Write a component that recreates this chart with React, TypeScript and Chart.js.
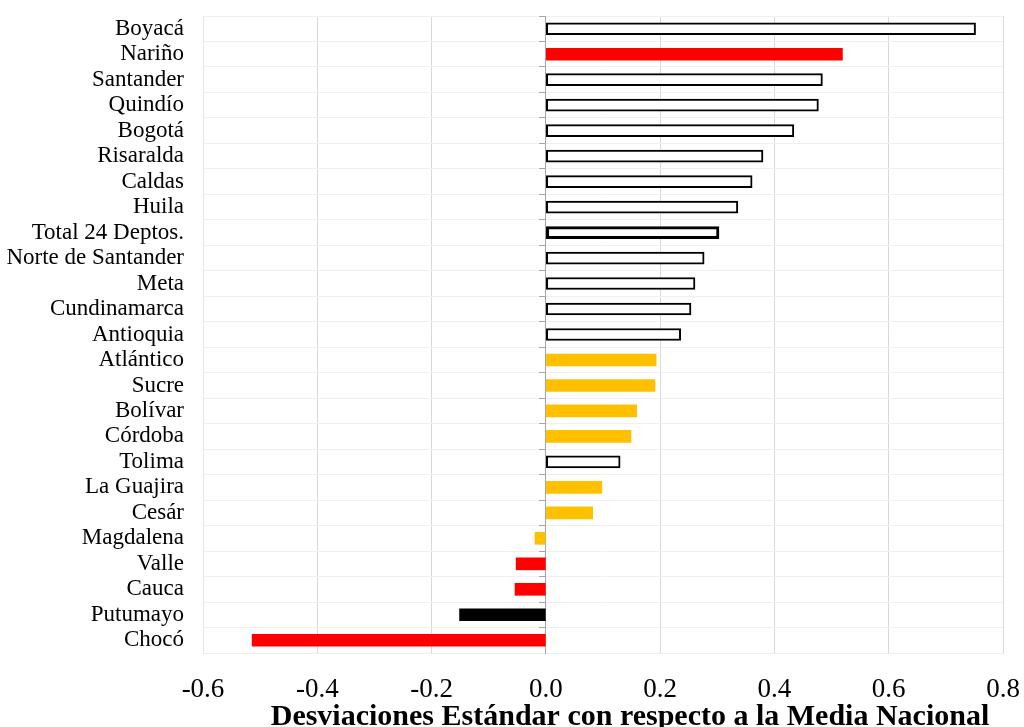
import React, { useEffect, useRef } from "react";
import { Chart, registerables } from "chart.js";

Chart.register(...registerables);

const categories: string[] = [
  "Boyacá", "Nariño", "Santander", "Quindío", "Bogotá", "Risaralda", "Caldas", "Huila",
  "Total 24 Deptos.", "Norte de Santander", "Meta", "Cundinamarca", "Antioquia", "Atlántico",
  "Sucre", "Bolívar", "Córdoba", "Tolima", "La Guajira", "Cesár", "Magdalena", "Valle",
  "Cauca", "Putumayo", "Chocó",
];

const values: number[] = [
  0.752, 0.519, 0.484, 0.477, 0.434, 0.380, 0.361, 0.336,
  0.303, 0.277, 0.261, 0.254, 0.236, 0.193,
  0.191, 0.159, 0.149, 0.130, 0.098, 0.082, -0.019, -0.052,
  -0.054, -0.151, -0.514,
];

// group of each bar: o = outlined, t = total (thick outline), r = red, y = yellow, k = black
const groups: string[] = [
  "o", "r", "o", "o", "o", "o", "o", "o",
  "t", "o", "o", "o", "o", "y",
  "y", "y", "y", "o", "y", "y", "y", "r",
  "r", "k", "r",
];

const xTickLabels: string[] = ["-0.6", "-0.4", "-0.2", "0.0", "0.2", "0.4", "0.6", "0.8"];
const xTitle = "Desviaciones Estándar con respecto a la Media Nacional";

const fillFor: Record<string, string> = { o: "#ffffff", t: "#ffffff", r: "#ff0000", y: "#ffc000", k: "#000000" };
const borderFor: Record<string, number> = { o: 2, t: 3, r: 0, y: 0, k: 0 };

const SERIF = "'Liberation Serif', 'Times New Roman', serif";

const titlePlugin = {
  id: "bottomTitle",
  afterDraw(chart: any) {
    const ctx = chart.ctx;
    ctx.save();
    ctx.fillStyle = "#000000";
    ctx.font = `bold 30px ${SERIF}`;
    ctx.textAlign = "center";
    ctx.textBaseline = "alphabetic";
    ctx.fillText(xTitle, 630, 725);
    ctx.restore();
  },
};

export default function App() {
  const ref = useRef<HTMLCanvasElement | null>(null);

  useEffect(() => {
    if (!ref.current) return;
    const chart = new Chart(ref.current, {
      type: "bar",
      data: {
        labels: categories,
        datasets: [
          {
            data: values,
            backgroundColor: groups.map((g) => fillFor[g]),
            borderColor: "#000000",
            borderWidth: groups.map((g) => borderFor[g]),
            borderSkipped: false,
            barThickness: 12,
          },
        ],
      },
      options: {
        indexAxis: "y",
        animation: false,
        responsive: false,
        layout: { padding: { top: 16, right: 21, left: 0, bottom: 0 } },
        plugins: { legend: { display: false }, tooltip: { enabled: false } },
        scales: {
          x: {
            type: "linear",
            min: -0.6,
            max: 0.8,
            ticks: {
              stepSize: 0.2,
              color: "#000000",
              font: { family: SERIF, size: 27 },
              padding: 21,
              callback: (_v: any, i: number) => xTickLabels[i],
            },
            grid: { color: "#d9d9d9", lineWidth: 1, drawTicks: false },
            border: { display: true, color: "#eeeeee" },
            afterFit: (s: any) => {
              s.height = 74;
              s.paddingLeft = 0;
              s.paddingRight = 0;
            },
          },
          y: {
            type: "category",
            offset: true,
            ticks: {
              color: "#000000",
              font: { family: SERIF, size: 23 },
              padding: 19,
              autoSkip: false,
            },
            grid: { offset: true, color: "#f0f0f0", drawTicks: false },
            border: { display: true, color: "#e6e6e6" },
            afterFit: (s: any) => {
              s.width = 203;
              s.paddingTop = 0;
              s.paddingBottom = 0;
            },
          },
          y2: {
            type: "category",
            axis: "y",
            position: { x: 0 },
            offset: true,
            ticks: { display: false },
            grid: {
              offset: true,
              drawOnChartArea: false,
              drawTicks: true,
              tickLength: 6,
              color: "#a6a6a6",
            },
            border: { display: true, color: "#a6a6a6" },
            afterFit: (s: any) => {
              s.paddingTop = 0;
              s.paddingBottom = 0;
            },
          },
        },
      },
      plugins: [titlePlugin],
    } as any);
    return () => chart.destroy();
  }, []);

  return (
    <div style={{ position: "absolute", left: 0, top: 0, width: 1024, height: 727, background: "#ffffff" }}>
      <canvas ref={ref} width={1024} height={727} style={{ display: "block" }} />
    </div>
  );
}
